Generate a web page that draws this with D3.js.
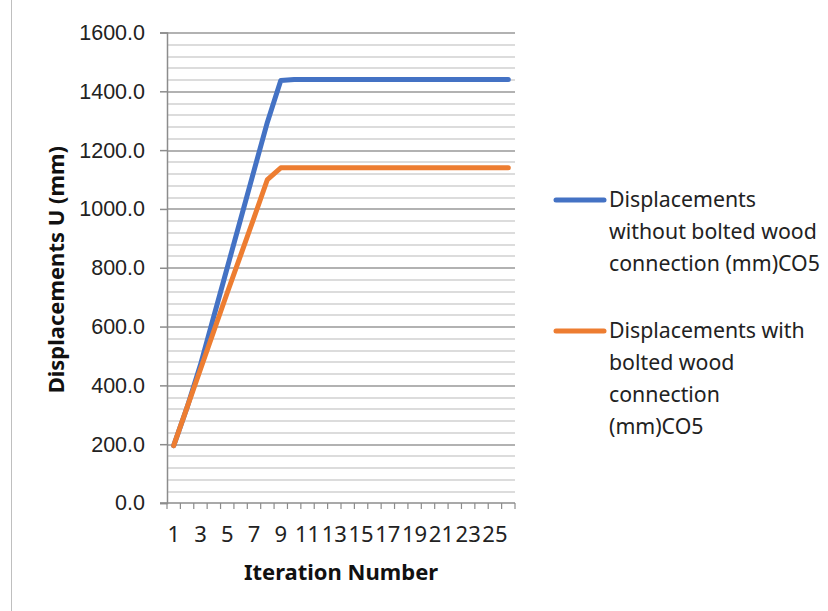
<!DOCTYPE html>
<html>
<head>
<meta charset="utf-8">
<script src="https://cdn.jsdelivr.net/npm/d3@7"></script>
<style>
    html, body { margin: 0; padding: 0; background: #fff; }
    svg { display: block; font-family: "Noto Sans", "Open Sans", sans-serif; }
</style>
</head>
<body>
<svg id="chart" width="828" height="611"></svg>
<script>
// Iterations 1..26
const iterations = d3.range(1, 27);

// Displacements without bolted wood connection (mm) CO5
const withoutBolted = [195, 325, 470, 635, 800, 965, 1130, 1295, 1437, 1440,
    1440, 1440, 1440, 1440, 1440, 1440, 1440, 1440, 1440, 1440,
    1440, 1440, 1440, 1440, 1440, 1440];

// Displacements with bolted wood connection (mm) CO5
const withBolted = [195, 325, 455, 585, 715, 842, 970, 1100, 1140, 1140,
    1140, 1140, 1140, 1140, 1140, 1140, 1140, 1140, 1140, 1140,
    1140, 1140, 1140, 1140, 1140, 1140];

const yTicks = [0, 200, 400, 600, 800, 1000, 1200, 1400, 1600];
const xTickLabels = [1, 3, 5, 7, 9, 11, 13, 15, 17, 19, 21, 23, 25];

const seriesNames = [
    ["Displacements", "without bolted wood", "connection (mm)CO5"],
    ["Displacements with", "bolted wood", "connection", "(mm)CO5"]
];
const colors = ["#4472C4", "#ED7D31"];

const svg = d3.select("#chart");
const margin = { left: 167, top: 32.5, right: 313, bottom: 108 };
const width = 828 - margin.left - margin.right;
const height = 611 - margin.top - margin.bottom;

// Thin frame edge on the left
svg.append("line")
    .attr("x1", 11.5).attr("x2", 11.5)
    .attr("y1", 0).attr("y2", 611)
    .attr("stroke", "#bfbfbf")
    .attr("stroke-width", 1);

const g = svg.append("g")
    .attr("transform", `translate(${margin.left},${margin.top})`);

const x = d3.scaleBand()
    .domain(iterations)
    .range([0, width]);

const y = d3.scaleLinear()
    .domain([0, 1600])
    .range([height, 0]);

// Minor gridlines (every 40)
g.append("g")
    .selectAll("line")
    .data(d3.range(0, 1601, 40).filter(v => v % 200 !== 0))
    .join("line")
    .attr("x1", 0).attr("x2", width)
    .attr("y1", d => Math.round(y(d)) + 0.5)
    .attr("y2", d => Math.round(y(d)) + 0.5)
    .attr("stroke", "#d0d0d0")
    .attr("stroke-width", 1.5);

// Major gridlines
g.append("g")
    .selectAll("line")
    .data(yTicks.filter(v => v > 0))
    .join("line")
    .attr("x1", 0).attr("x2", width)
    .attr("y1", d => Math.round(y(d)) + 0.5)
    .attr("y2", d => Math.round(y(d)) + 0.5)
    .attr("stroke", "#999")
    .attr("stroke-width", 1.5);

// Y axis
const yAxis = g.append("g")
    .call(d3.axisLeft(y).tickValues(yTicks).tickSize(7).tickPadding(15)
        .tickFormat(d3.format(".1f")));
yAxis.select(".domain").attr("stroke", "#8c8c8c").attr("stroke-width", 1.5);
yAxis.selectAll(".tick line").attr("stroke", "#8c8c8c").attr("stroke-width", 1.5);
yAxis.selectAll("text")
    .attr("font-size", 21.5)
    .attr("fill", "#222");

// X axis: baseline and ticks between categories
const xg = g.append("g").attr("transform", `translate(0,${height})`);
xg.append("line")
    .attr("x1", -7).attr("x2", width)
    .attr("stroke", "#8c8c8c").attr("stroke-width", 1.5);
xg.selectAll(".xtick")
    .data(iterations.concat([null]))
    .join("line")
    .attr("class", "xtick")
    .attr("x1", (d, i) => i * x.bandwidth())
    .attr("x2", (d, i) => i * x.bandwidth())
    .attr("y1", 0).attr("y2", 6)
    .attr("stroke", "#8c8c8c").attr("stroke-width", 1.2);
xg.selectAll(".xlabel")
    .data(xTickLabels)
    .join("text")
    .attr("class", "xlabel")
    .attr("x", d => x(d) + x.bandwidth() / 2)
    .attr("y", 542 - margin.top - height)
    .attr("text-anchor", "middle")
    .attr("font-size", 22)
    .attr("fill", "#222")
    .text(d => d);

// Axis titles
svg.append("text")
    .attr("x", margin.left + width / 2)
    .attr("y", 580)
    .attr("text-anchor", "middle")
    .attr("font-size", 22)
    .attr("font-weight", "bold")
    .attr("fill", "#111")
    .text("Iteration Number");

svg.append("text")
    .attr("transform", `translate(64,${margin.top + height / 2 + 2}) rotate(-90)`)
    .attr("text-anchor", "middle")
    .attr("font-size", 22)
    .attr("font-weight", "bold")
    .attr("fill", "#111")
    .text("Displacements U (mm)");

// Lines
const line = d3.line()
    .x((d, i) => x(iterations[i]) + x.bandwidth() / 2)
    .y(d => y(d));

[withoutBolted, withBolted].forEach((values, i) => {
    g.append("path")
        .datum(values)
        .attr("d", line)
        .attr("fill", "none")
        .attr("stroke", colors[i])
        .attr("stroke-width", 5)
        .attr("stroke-linejoin", "round")
        .attr("stroke-linecap", "round");
});

// Legend
const legendY = [200, 331];
const legend = svg.append("g");
seriesNames.forEach((lines, i) => {
    legend.append("line")
        .attr("x1", 556).attr("x2", 604)
        .attr("y1", legendY[i]).attr("y2", legendY[i])
        .attr("stroke", colors[i])
        .attr("stroke-width", 5)
        .attr("stroke-linecap", "round");
    legend.append("text")
        .attr("x", 609)
        .attr("y", legendY[i])
        .attr("font-size", 21.3)
        .attr("fill", "#222")
        .selectAll("tspan")
        .data(lines)
        .join("tspan")
        .attr("x", 609)
        .attr("dy", (d, j) => j === 0 ? "0.35em" : 32)
        .text(d => d);
});
</script>
</body>
</html>
